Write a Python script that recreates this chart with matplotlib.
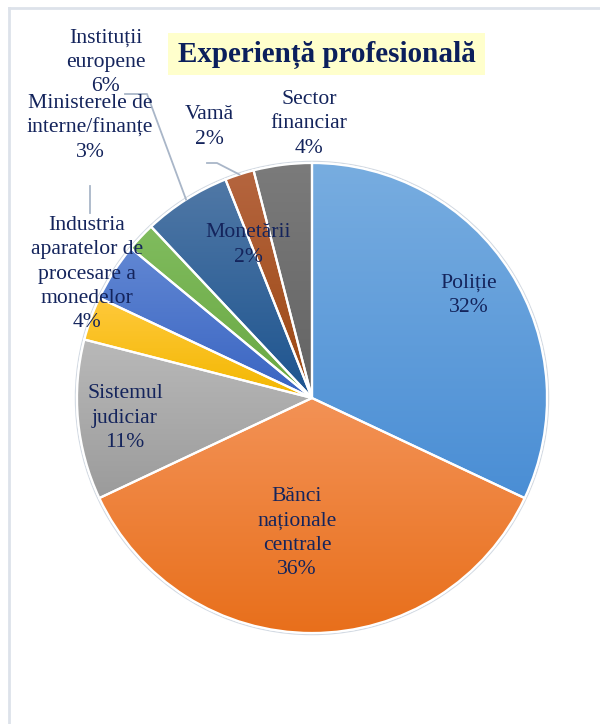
import numpy as np
import matplotlib.pyplot as plt
from matplotlib.colors import LinearSegmentedColormap
from matplotlib.patches import Rectangle, Wedge
from matplotlib.lines import Line2D

# --- data ---
categories = ['Poliție', 'Bănci naționale centrale', 'Sistemul judiciar',
              'Ministerele de interne/finanțe',
              'Industria aparatelor de procesare a monedelor',
              'Monetării', 'Instituții europene', 'Vamă', 'Sector financiar']
values = [32, 36, 11, 3, 4, 2, 6, 2, 4]
label_text = ['Poliție', 'Bănci\nnaționale\ncentrale', 'Sistemul\njudiciar',
              'Ministerele de\ninterne/finanțe',
              'Industria\naparatelor de\nprocesare a\nmonedelor',
              'Monetării', 'Instituții\neuropene', 'Vamă', 'Sector\nfinanciar']

# gradient colours (top, bottom) per slice
grad = [('#78ADE0', '#4A8ED5'), ('#F39256', '#E86F1B'), ('#B9B9B9', '#9B9B9B'),
        ('#FFC93C', '#F3B700'), ('#6187D3', '#3964C2'), ('#80BC5E', '#69A742'),
        ('#5078A6', '#1D548F'), ('#B5653F', '#9B4711'), ('#7B7B7B', '#636363')]

# label centres in pixel coords (x, y from top)
label_pos = [(469, 295), (297, 533), (125, 418), (90, 128), (87, 274),
             (248, 245), (106, 62), (209, 127), (309, 124)]

W, H = 600, 724
navy = '#14245C'
font = 'Liberation Serif'

fig = plt.figure(figsize=(W / 100, H / 100), dpi=100)
ax = fig.add_axes([0, 0, 1, 1])
ax.set_xlim(0, W)
ax.set_ylim(0, H)
ax.axis('off')

# chart frame (top and left edges visible)
fig.add_artist(Line2D([9 / W, 1], [1 - 8 / H, 1 - 8 / H], transform=fig.transFigure,
                      color='#DDE2EA', lw=2))
fig.add_artist(Line2D([9 / W, 9 / W], [0, 1 - 8 / H], transform=fig.transFigure,
                      color='#DDE2EA', lw=2))

cx, cy, R = 312, H - 398, 235
wedges, _ = ax.pie(values, startangle=90, counterclock=False, center=(cx, cy),
                   radius=R, colors=[g[1] for g in grad],
                   wedgeprops=dict(edgecolor='white', linewidth=1.6))
ax.set_xlim(0, W)
ax.set_ylim(0, H)

# faint outline around the pie
ax.add_patch(plt.Circle((cx, cy), R + 1.2, fill=False, ec='#D3DAE3', lw=1.5, zorder=0))

# vertical gradient inside each slice
for w, (top, bot) in zip(wedges, grad):
    ext = w.get_path().get_extents()
    cmap = LinearSegmentedColormap.from_list('g', [bot, top])
    img = ax.imshow(np.linspace(0, 1, 256).reshape(-1, 1), cmap=cmap, origin='lower',
                    extent=[ext.x0, ext.x1, ext.y0, ext.y1], aspect='auto', zorder=1.5)
    img.set_clip_path(w)
    edge = Wedge(w.center, w.r, w.theta1, w.theta2, fc='none', ec='white', lw=1.6,
                 zorder=1.6)
    ax.add_patch(edge)
ax.set_xlim(0, W)
ax.set_ylim(0, H)

# data labels
for txt, val, (px, py) in zip(label_text, values, label_pos):
    ax.text(px, H - py, f'{txt}\n{val}%', ha='center', va='center', fontsize=15.6,
            family=font, color=navy, linespacing=1.37, zorder=3)


def arc_point(w):
    a = np.deg2rad((w.theta1 + w.theta2) / 2)
    return w.center[0] + w.r * np.cos(a), w.center[1] + w.r * np.sin(a)


# leader lines
lc = '#A9B6C8'
x6, y6 = arc_point(wedges[6])
ax.plot([125, 147, x6], [H - 94, H - 94, y6], color=lc, lw=1.3, zorder=2)
x7, y7 = arc_point(wedges[7])
ax.plot([207, 217, x7], [H - 163, H - 163, y7], color=lc, lw=1.3, zorder=2)
ax.plot([90, 90], [H - 186, H - 213], color=lc, lw=1.3, zorder=2)

# title with yellow box
ax.add_patch(Rectangle((168, H - 75), 317, 42, fc='#FFFFCC', ec='none', zorder=2))
ax.text(326.5, H - 55, 'Experiență profesională', ha='center', va='center',
        fontsize=21, fontweight='bold', family=font, color='#0B1F5C', zorder=3)

fig.savefig('out.png', dpi=100)
